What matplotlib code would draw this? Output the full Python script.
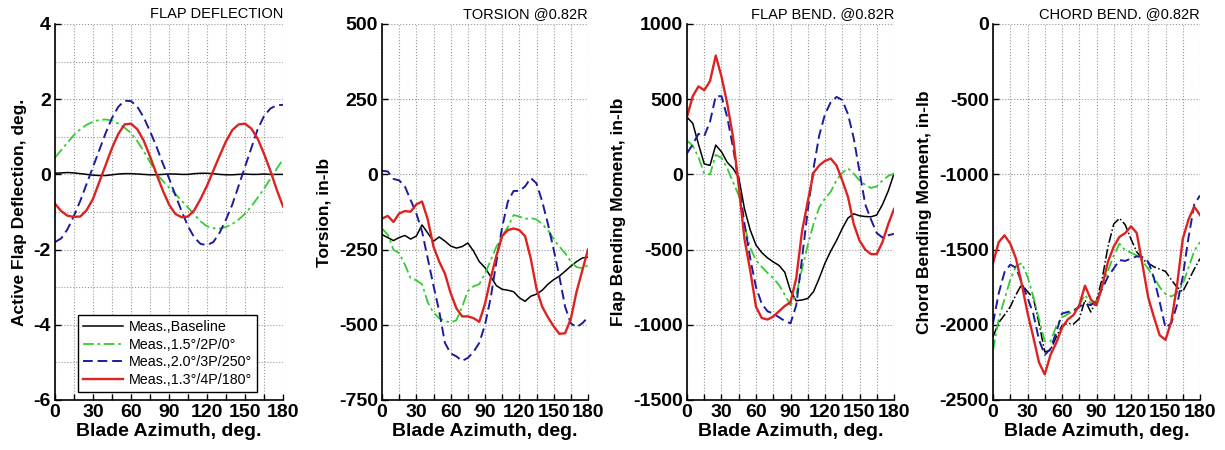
import matplotlib
matplotlib.use('Agg')
from matplotlib import pyplot as plt
import numpy as np

plt.rcParams['font.family'] = ['Liberation Sans', 'DejaVu Sans']
plt.rcParams['axes.unicode_minus'] = False

# blade azimuth, deg (5 deg steps)
azimuth = np.arange(0, 181, 5)

labels = ['Meas.,Baseline', 'Meas.,1.5\u00b0/2P/0\u00b0',
          'Meas.,2.0\u00b0/3P/250\u00b0', 'Meas.,1.3\u00b0/4P/180\u00b0']

# active flap deflection, deg
flap_base = [0.03, 0.04, 0.05, 0.04, 0.02, 0.0, -0.02, -0.03, -0.03, -0.01, 0.01, 0.02, 0.02,
             0.01, 0.0, -0.01, -0.01, 0.0, 0.01, 0.01, 0.0, 0.0, 0.02, 0.03, 0.03, 0.02, 0.0,
             -0.01, -0.01, 0.0, 0.01, 0.0, 0.0, 0.01, 0.0, 0.0, 0.0]
flap_2p = [0.45, 0.65, 0.85, 1.05, 1.2, 1.32, 1.4, 1.45, 1.46, 1.43, 1.35, 1.24, 1.1, 0.88,
           0.62, 0.33, 0.02, -0.17, -0.35, -0.52, -0.7, -0.88, -1.07, -1.25, -1.38, -1.43,
           -1.44, -1.4, -1.32, -1.2, -1.05, -0.85, -0.62, -0.38, -0.12, 0.15, 0.4]
flap_3p = [-1.8, -1.7, -1.45, -1.1, -0.7, -0.25, 0.2, 0.65, 1.1, 1.5, 1.8, 1.96, 1.95, 1.8,
           1.52, 1.15, 0.75, 0.3, -0.1, -0.55, -0.98, -1.38, -1.68, -1.85, -1.88, -1.8,
           -1.55, -1.2, -0.8, -0.3, 0.2, 0.7, 1.2, 1.55, 1.75, 1.84, 1.85]
flap_4p = [-0.78, -0.98, -1.1, -1.13, -1.12, -0.95, -0.65, -0.2, 0.25, 0.7, 1.08, 1.33, 1.35,
           1.2, 0.9, 0.48, 0.02, -0.42, -0.8, -1.05, -1.14, -1.12, -0.95, -0.65, -0.3, 0.1,
           0.5, 0.88, 1.18, 1.33, 1.35, 1.22, 0.95, 0.55, 0.1, -0.4, -0.85]

# torsion @0.82R, in-lb
tor_base = [-200, -210, -220, -210, -203, -215, -205, -168, -195, -222, -208, -222, -238,
            -245, -240, -228, -255, -290, -310, -340, -370, -382, -385, -390, -410, -422,
            -405, -398, -385, -365, -350, -338, -322, -305, -290, -278, -275]
tor_2p = [-180, -200, -250, -262, -300, -345, -352, -365, -425, -460, -478, -488, -492, -485,
          -440, -388, -372, -365, -330, -285, -240, -205, -175, -135, -140, -148, -145, -150,
          -165, -185, -215, -240, -262, -290, -308, -312, -302]
tor_3p = [12, 10, -15, -20, -40, -85, -130, -190, -280, -370, -455, -560, -595, -605, -620,
          -610, -590, -560, -500, -410, -290, -175, -90, -55, -55, -40, -12, -30, -90, -165,
          -250, -340, -440, -495, -508, -495, -475]
tor_4p = [-147, -138, -158, -130, -122, -124, -100, -90, -150, -240, -290, -330, -395, -445,
          -472, -472, -478, -490, -430, -345, -270, -205, -185, -180, -185, -205, -280, -380,
          -440, -475, -505, -530, -528, -480, -390, -320, -250]

# flap bending moment @0.82R, in-lb
fbm_base = [380, 340, 200, 70, 60, 195, 150, 80, 40, -20, -230, -370, -470, -520, -555, -582,
            -605, -650, -775, -840, -835, -825, -780, -690, -590, -510, -440, -360, -290,
            -262, -275, -280, -282, -270, -200, -110, 5]
fbm_2p = [225, 190, 115, 5, 0, 130, 110, 40, -50, -140, -340, -490, -570, -615, -655, -690,
          -735, -800, -870, -800, -630, -470, -330, -220, -160, -115, -38, 10, 40, 5, -40, -70,
          -90, -80, -40, -10, 5]
fbm_3p = [140, 200, 270, 255, 350, 520, 520, 380, 180, -50, -330, -560, -750, -860, -910,
          -925, -950, -975, -990, -870, -560, -240, 40, 260, 400, 480, 515, 495, 400, 240, 20,
          -200, -300, -390, -420, -405, -395]
fbm_4p = [383, 520, 585, 560, 620, 790, 650, 470, 250, -80, -430, -640, -880, -955, -965,
          -945, -910, -875, -850, -690, -380, -180, 10, 60, 90, 105, 60, -40, -150, -330, -440,
          -500, -530, -530, -450, -330, -230]

# chord bending moment @0.82R, in-lb
cbm_base = [-2080, -1985, -1935, -1880, -1800, -1730, -1780, -1820, -1990, -2180, -2170,
            -2080, -2005, -1990, -1995, -1960, -1835, -1915, -1840, -1690, -1480, -1330,
            -1292, -1335, -1430, -1515, -1565, -1590, -1615, -1630, -1645, -1700, -1750,
            -1780, -1705, -1630, -1560]
cbm_2p = [-2170, -1960, -1830, -1700, -1610, -1590, -1680, -1810, -1960, -2110, -2110, -2010,
          -1950, -1930, -1910, -1870, -1800, -1860, -1840, -1740, -1640, -1540, -1460, -1505,
          -1520, -1540, -1575, -1630, -1685, -1750, -1795, -1812, -1790, -1730, -1620, -1510,
          -1450]
cbm_3p = [-1990, -1790, -1650, -1600, -1620, -1720, -1820, -1925, -2100, -2200, -2160, -2050,
          -1925, -1915, -1905, -1880, -1860, -1870, -1840, -1760, -1680, -1625, -1570, -1575,
          -1560, -1545, -1550, -1580, -1690, -1850, -2020, -1990, -1870, -1680, -1420, -1200,
          -1140]
cbm_4p = [-1590, -1450, -1405, -1460, -1560, -1730, -1920, -2080, -2250, -2330, -2200, -2120,
          -2020, -1965, -1935, -1870, -1740, -1830, -1870, -1740, -1580, -1480, -1415, -1390,
          -1345, -1390, -1600, -1820, -1950, -2070, -2100, -1980, -1740, -1430, -1300, -1215,
          -1270]

GREEN = '#33cc33'
BLUE = '#1c1c9c'
RED = '#dd2222'

panels = [
    ('FLAP DEFLECTION', 'Active Flap Deflection, deg.', (-6, 4), 2, 1,
     [flap_base, flap_2p, flap_3p, flap_4p]),
    ('TORSION @0.82R', 'Torsion, in-lb', (-750, 500), 250, None,
     [tor_base, tor_2p, tor_3p, tor_4p]),
    ('FLAP BEND. @0.82R', 'Flap Bending Moment, in-lb', (-1500, 1000), 500, None,
     [fbm_base, fbm_2p, fbm_3p, fbm_4p]),
    ('CHORD BEND. @0.82R', 'Chord Bending Moment, in-lb', (-2500, 0), 500, None,
     [cbm_base, cbm_2p, cbm_3p, cbm_4p]),
]
lefts = [55, 382, 687, 993]
widths = [228, 206, 207, 207]

fig = plt.figure(figsize=(12.25, 4.5), dpi=100)
for i, (title, ylab, ylim, ystep, yminor, series) in enumerate(panels):
    ax = fig.add_axes([lefts[i] / 1225, 50 / 450, widths[i] / 1225, 376 / 450])
    base_style = '-.' if i == 3 else '-'
    ax.plot(azimuth, series[0], color='black', ls=base_style, lw=1.1, label=labels[0])
    ax.plot(azimuth, series[1], color=GREEN, ls=(0, (6, 2, 1.5, 2)), lw=1.3, label=labels[1])
    ax.plot(azimuth, series[2], color=BLUE, ls=(0, (5, 2.5)), lw=1.4, label=labels[2])
    ax.plot(azimuth, series[3], color=RED, ls='-', lw=1.7, label=labels[3])

    ax.set_xlim(0, 180)
    ax.set_ylim(*ylim)
    ax.set_xticks(range(0, 181, 15))
    ax.set_xticklabels([str(v) if v % 30 == 0 else '' for v in range(0, 181, 15)])
    yt = np.arange(ylim[0], ylim[1] + 0.001, ystep)
    ax.set_yticks(yt)
    ax.set_yticklabels([str(int(v)) for v in yt])
    if yminor:
        ax.set_yticks(np.arange(ylim[0], ylim[1] + 0.001, yminor), minor=True)
        ax.grid(True, which='minor', axis='y', ls=':', color='#999999', lw=0.8)
    ax.grid(True, which='major', ls=':', color='#999999', lw=0.8)
    ax.tick_params(axis='both', which='both', direction='in', length=4, width=1,
                   labelsize=14, pad=3)
    ax.tick_params(axis='y', which='minor', length=0)
    for lab in ax.get_xticklabels() + ax.get_yticklabels():
        lab.set_fontweight('bold')
    for s in ['top', 'right']:
        ax.spines[s].set_visible(False)
    for s in ['left', 'bottom']:
        ax.spines[s].set_linewidth(1.2)
    ax.set_xlabel('Blade Azimuth, deg.', fontsize=14, fontweight='bold', labelpad=1)
    ax.set_ylabel(ylab, fontsize=12.5, fontweight='bold', labelpad=5)
    ax.text(1.0, 1.008, title, transform=ax.transAxes, ha='right', va='bottom', fontsize=10.5)

    if i == 0:
        leg = ax.legend(loc='lower center', bbox_to_anchor=(0.495, 0.003), fontsize=10.3,
                        handlelength=2.8, handletextpad=0.4, borderpad=0.35,
                        labelspacing=0.25, fancybox=False, framealpha=1)
        leg.get_frame().set_edgecolor('black')
        leg.get_frame().set_linewidth(1.0)

fig.savefig('out.png', dpi=100)
